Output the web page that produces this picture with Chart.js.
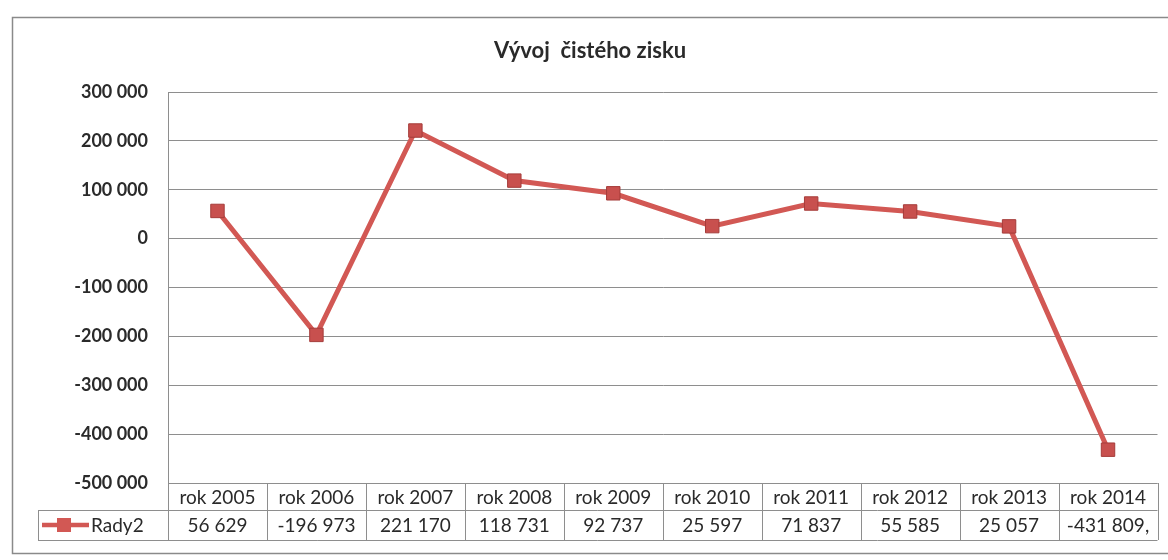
<!DOCTYPE html>
<html>
<head>
<meta charset="utf-8">
<script src="https://cdn.jsdelivr.net/npm/chart.js@4"></script>
<style>
  html, body { margin: 0; padding: 0; background: #fff; }
  #wrap { width: 1168px; height: 560px; position: relative; }
</style>
</head>
<body>
<div id="wrap"><canvas id="profitChart" width="1168" height="560"></canvas></div>
<script>
const years = ['rok 2005', 'rok 2006', 'rok 2007', 'rok 2008', 'rok 2009',
               'rok 2010', 'rok 2011', 'rok 2012', 'rok 2013', 'rok 2014'];
const netProfit = [56629, -196973, 221170, 118731, 92737, 25597, 71837, 55585, 25057, -431809];
const tableValues = ['56 629', '-196 973', '221 170', '118 731', '92 737',
                     '25 597', '71 837', '55 585', '25 057', '-431 809,'];
const seriesName = 'Rady2';
const chartTitle = 'Vývoj  čistého zisku';

const lineColor = 'rgb(210, 88, 84)';
const gridColor = '#8e8e8e';
const textColor = '#2a2a2a';
const fontFamily = 'Lato, "Open Sans", sans-serif';

function fmt(v) {
    const s = Math.abs(v).toString().replace(/\B(?=(\d{3})+(?!\d))/g, ' ');
    return (v < 0 ? '-' : '') + s;
}

// draws title, outer frame and the data table under the plot
const tablePlugin = {
    id: 'dataTable',
    afterDraw(chart) {
        const ctx = chart.ctx;
        const xs = chart.scales.x;
        const area = chart.chartArea;
        const colW = (area.right - area.left) / years.length;
        const top = area.bottom;
        const mid = top + 27;
        const bottom = mid + 30;
        const legendLeft = 38;

        ctx.save();
        // outer frame
        ctx.strokeStyle = '#8a8a8a';
        ctx.lineWidth = 1.5;
        ctx.strokeRect(12.5, 17.5, 1170, 536);

        // title
        ctx.fillStyle = textColor;
        ctx.font = 'bold 22px ' + fontFamily;
        ctx.textAlign = 'center';
        ctx.textBaseline = 'middle';
        ctx.fillText(chartTitle, 590, 51);

        // table lines
        ctx.strokeStyle = gridColor;
        ctx.lineWidth = 1;
        ctx.beginPath();
        ctx.moveTo(area.left, top + 0.5); ctx.lineTo(area.right, top + 0.5);
        ctx.moveTo(legendLeft, mid + 0.5); ctx.lineTo(area.right, mid + 0.5);
        ctx.moveTo(legendLeft, bottom + 0.5); ctx.lineTo(area.right, bottom + 0.5);
        ctx.moveTo(legendLeft + 0.5, mid); ctx.lineTo(legendLeft + 0.5, bottom);
        for (let i = 0; i <= years.length; i++) {
            const x = Math.round(area.left + i * colW) + 0.5;
            ctx.moveTo(x, top); ctx.lineTo(x, bottom);
        }
        ctx.stroke();

        // cell text
        ctx.fillStyle = textColor;
        ctx.font = '19px ' + fontFamily;
        ctx.textAlign = 'center';
        years.forEach((y, i) => {
            const cx = xs.getPixelForValue(i);
            ctx.fillText(y, cx, (top + mid) / 2 + 1);
            ctx.fillText(tableValues[i], cx, (mid + bottom) / 2 + 1);
        });

        // legend key
        const ky = (mid + bottom) / 2;
        ctx.strokeStyle = lineColor;
        ctx.lineWidth = 4.5;
        ctx.beginPath();
        ctx.moveTo(42, ky); ctx.lineTo(89, ky);
        ctx.stroke();
        ctx.fillStyle = lineColor;
        ctx.fillRect(57, ky - 7, 14, 14);
        ctx.fillStyle = textColor;
        ctx.textAlign = 'left';
        ctx.fillText(seriesName, 91, ky + 1);
        ctx.restore();
    }
};

const ctx = document.getElementById('profitChart').getContext('2d');
const profitChart = new Chart(ctx, {
    type: 'line',
    data: {
        labels: years,
        datasets: [{
            label: seriesName,
            data: netProfit,
            borderColor: lineColor,
            borderWidth: 5,
            pointStyle: 'rect',
            pointRadius: 9.5,
            pointBackgroundColor: 'rgb(200, 80, 78)',
            pointBorderColor: 'rgb(165, 60, 58)',
            pointBorderWidth: 1,
            tension: 0
        }]
    },
    options: {
        responsive: false,
        animation: false,
        layout: {
            padding: { top: 92, bottom: 77, left: 0, right: 5 }
        },
        plugins: {
            legend: { display: false },
            title: { display: false },
            tooltip: { enabled: false }
        },
        scales: {
            x: {
                display: false,
                offset: true
            },
            y: {
                min: -500000,
                max: 300000,
                afterFit(scale) { scale.width = 168; },
                ticks: {
                    stepSize: 100000,
                    padding: 20,
                    color: textColor,
                    font: { family: fontFamily, size: 18, weight: 'bold' },
                    callback: (v) => fmt(v)
                },
                grid: {
                    color: gridColor,
                    drawTicks: false
                },
                border: { color: gridColor }
            }
        }
    },
    plugins: [tablePlugin]
});
</script>
</body>
</html>
